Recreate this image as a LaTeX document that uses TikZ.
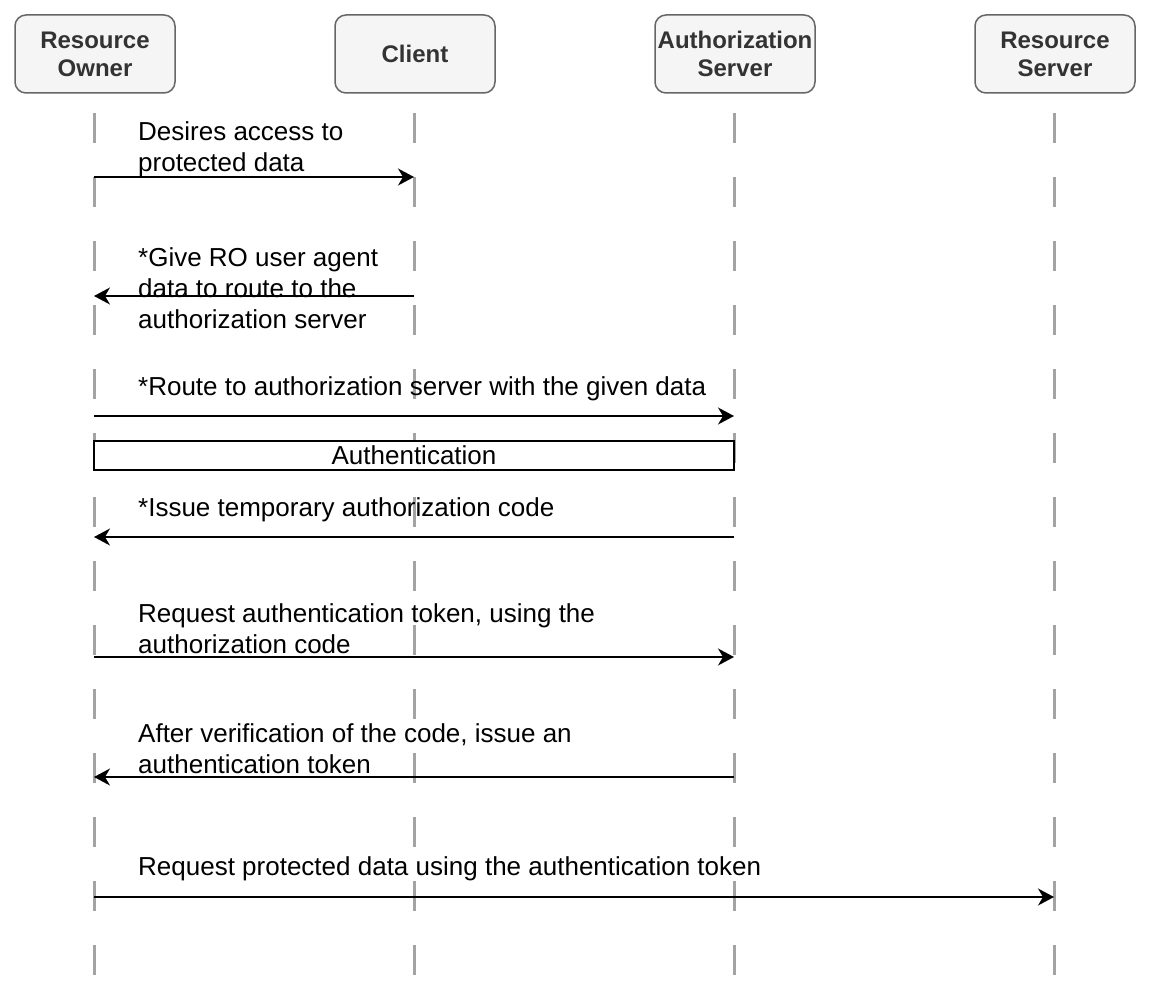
\documentclass[tikz,border=0pt]{standalone}
\usepackage{fontspec}
\setmainfont{Liberation Sans}
\usetikzlibrary{arrows.meta}
\definecolor{hdrfill}{HTML}{F5F5F5}
\definecolor{hdrline}{HTML}{666666}
\definecolor{hdrtext}{HTML}{333333}
\definecolor{lifeline}{HTML}{A3A3A3}
\begin{document}
\begin{tikzpicture}[x=1pt,y=-1pt,
  actor/.style={draw=hdrline, fill=hdrfill, line width=1.5pt, rounded corners=11pt,
    minimum width=160pt, minimum height=78pt, inner sep=0pt, align=center,
    text=hdrtext, font=\fontsize{24}{28}\selectfont\bfseries},
  lline/.style={draw=lifeline, line width=3pt, dash pattern=on 30pt off 34pt},
  msg/.style={draw=black, line width=1.5pt, -{Stealth[length=16pt,width=17pt,inset=5pt]}},
  lbl/.style={anchor=west, align=left, inner sep=0pt, font=\fontsize{26}{31}\selectfont},
  framebox/.style={draw=black, fill=white, line width=1.5pt, inner sep=0pt,
    font=\fontsize{26}{31}\selectfont}]
\useasboundingbox (0,0) rectangle (1152,990);
% actors
\node[actor] (ro) at (95,54) {Resource\\Owner};
\node[actor] (cl) at (415,54) {Client};
\node[actor] (as) at (735,54) {Authorization\\Server};
\node[actor] (rs) at (1055,54) {Resource\\Server};
% lifelines
\foreach \n/\x in {ro/94,cl/414,as/734,rs/1054}{
  \coordinate (\n top) at (\x,113);
  \coordinate (\n bot) at (\x,975);
  \draw[lline] (\n top) -- (\n bot);
}
% message anchor points
\coordinate (m1a) at (94,177);  \coordinate (m1b) at (414,177);
\coordinate (m2a) at (414,296); \coordinate (m2b) at (94,296);
\coordinate (m3a) at (94,416);  \coordinate (m3b) at (734,416);
\coordinate (m5a) at (734,537); \coordinate (m5b) at (94,537);
\coordinate (m6a) at (94,657);  \coordinate (m6b) at (734,657);
\coordinate (m7a) at (734,777); \coordinate (m7b) at (94,777);
\coordinate (m8a) at (94,897);  \coordinate (m8b) at (1054,897);
% authentication box
\node[framebox, minimum width=640pt, minimum height=29pt] (auth) at (414,455.5) {Authentication};
% messages
\draw[msg] (m1a) -- (m1b);
\draw[msg] (m2a) -- (m2b);
\draw[msg] (m3a) -- (m3b);
\draw[msg] (m5a) -- (m5b);
\draw[msg] (m6a) -- (m6b);
\draw[msg] (m7a) -- (m7b);
\draw[msg] (m8a) -- (m8b);
% labels
\node[lbl] (l1) at (138,149) {Desires access to\\protected data};
\node[lbl] (l2) at (138,288.5) {*Give RO user agent\\data to route to the\\authorization server};
\node[lbl] (l3) at (138,388.5) {*Route to authorization server with the given data};
\node[lbl] (l5) at (138,509.5) {*Issue temporary authorization code};
\node[lbl] (l6) at (138,628.5) {Request authentication token, using the\\authorization code};
\node[lbl] (l7) at (138,748.5) {After verification of the code, issue an\\authentication token};
\node[lbl] (l8) at (138,868.5) {Request protected data using the authentication token};
\end{tikzpicture}
\end{document}
